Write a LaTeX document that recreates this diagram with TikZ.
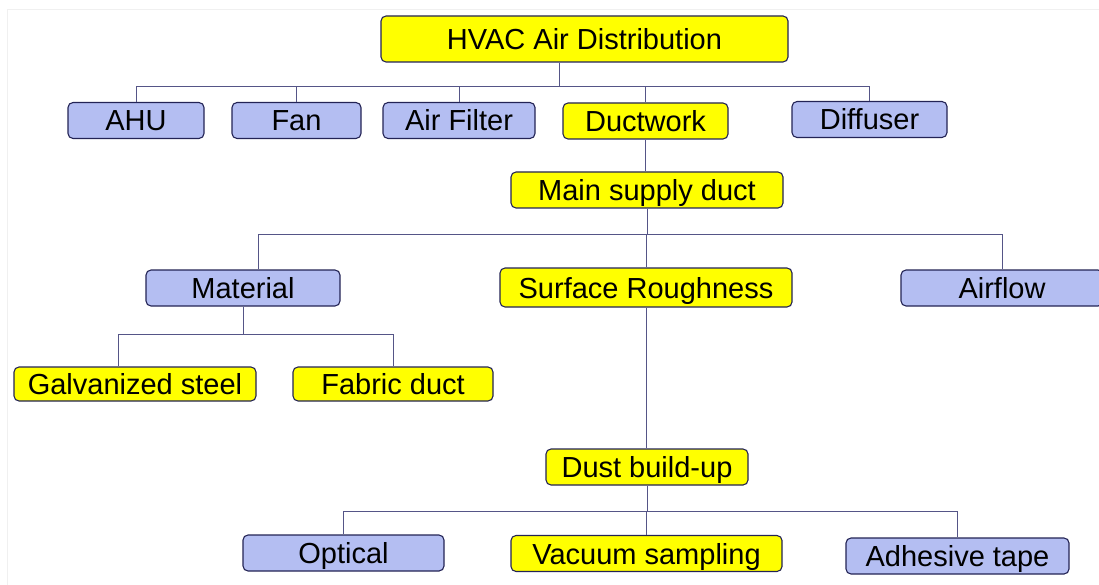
\documentclass[tikz,border=0pt]{standalone}
\usepackage{fontspec}
\setmainfont{Liberation Sans}
\definecolor{boxyellow}{RGB}{255,255,0}
\definecolor{boxblue}{RGB}{180,190,242}
\definecolor{boxline}{RGB}{35,35,85}
\definecolor{linkline}{RGB}{85,85,135}
\tikzset{
  box/.style={draw=boxline, line width=1.1pt, rounded corners=5pt,
    inner sep=0pt, minimum height=36pt, text height=21pt, text depth=0pt,
    font=\fontsize{29}{32}\selectfont},
  ybox/.style={box, fill=boxyellow},
  bbox/.style={box, fill=boxblue},
  link/.style={draw=linkline, line width=0.8pt}
}
\begin{document}
\begin{tikzpicture}[x=1pt,y=-1pt]
\useasboundingbox (0,0) rectangle (1099,585);
\draw[gray!12, line width=1pt] (7,585) -- (7,10) -- (1099,10);
% top level
\node[ybox, minimum width=407pt, minimum height=46pt] (hvac) at (584.5,39) {HVAC Air Distribution};
\node[bbox, minimum width=136pt] (ahu) at (136,120.5) {AHU};
\node[bbox, minimum width=129pt] (fan) at (296.5,120.5) {Fan};
\node[bbox, minimum width=152pt] (filter) at (459,120.5) {Air Filter};
\node[ybox, minimum width=165pt] (duct) at (645.5,121) {Ductwork};
\node[bbox, minimum width=155pt] (diffuser) at (869.5,119.5) {Diffuser};
\node[ybox, minimum width=272pt] (mainduct) at (647,190) {Main supply duct};
% duct properties
\node[bbox, minimum width=194pt] (material) at (243,288) {Material};
\node[ybox, minimum width=292pt, minimum height=39pt] (rough) at (646,287.5) {Surface Roughness};
\node[bbox, minimum width=202pt] (airflow) at (1002,288) {Airflow};
\node[ybox, minimum width=242pt, minimum height=34pt] (steel) at (135,384) {Galvanized steel};
\node[ybox, minimum width=200pt, minimum height=34pt] (fabric) at (393,384) {Fabric duct};
% dust
\node[ybox, minimum width=202pt] (dust) at (647,467) {Dust build-up};
\node[bbox, minimum width=201pt] (optical) at (343.5,553) {Optical};
\node[ybox, minimum width=271pt] (vacuum) at (646.5,553.5) {Vacuum sampling};
\node[bbox, minimum width=223pt] (tape) at (957.5,556) {Adhesive tape};
% connectors
\draw[link] ([xshift=-25.5pt]hvac.south) -- ++(0,24) coordinate (topbus);
\foreach \n in {ahu,fan,filter,duct,diffuser}
  \draw[link] (\n.north) |- (topbus);
\draw[link] (duct.south) -- (duct.south |- mainduct.north);
\draw[link] (mainduct.south) -- ++(0,26) coordinate (midbus);
\draw[link] ([xshift=15pt]material.north) |- (midbus);
\draw[link] (rough.north) |- (midbus);
\draw[link] (airflow.north) |- (midbus);
\draw[link] (material.south) -- ++(0,28) coordinate (matbus);
\draw[link] ([xshift=-17pt]steel.north) |- (matbus);
\draw[link] (fabric.north) |- (matbus);
\draw[link] (rough.south) -- (rough.south |- dust.north);
\draw[link] (dust.south) -- ++(0,26) coordinate (dustbus);
\foreach \n in {optical,vacuum,tape}
  \draw[link] (\n.north) |- (dustbus);
\end{tikzpicture}
\end{document}
